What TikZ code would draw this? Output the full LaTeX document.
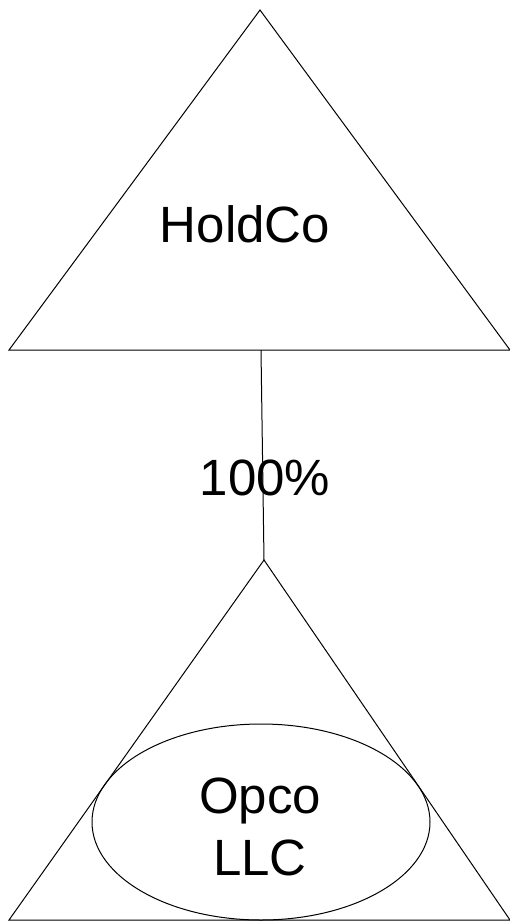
\documentclass[tikz,border=0pt]{standalone}
\usepackage{fontspec}
\setmainfont{Liberation Sans}
\usetikzlibrary{positioning,calc,shapes.geometric}

\tikzset{
  entity/.style={draw=black, line width=1pt},
  entitytext/.style={font=\fontsize{51}{62}\selectfont, align=center, inner sep=0pt},
}

\begin{document}
\begin{tikzpicture}[x=1pt, y=-1pt, line join=miter]
  \useasboundingbox (0,0) rectangle (510,922);

  % HoldCo triangle
  \coordinate (holdTop) at (260,10);
  \coordinate (holdL) at (9,350);
  \coordinate (holdR) at (510,350);
  \coordinate (holdBase) at (261,350);
  \draw[entity] (holdTop) -- (holdL) -- (holdR) -- cycle;
  \node[entitytext] (holdco) at (245,224) {HoldCo};

  % Opco triangle with ellipse
  \coordinate (opTop) at (264,560);
  \coordinate (opL) at (9,920);
  \coordinate (opR) at (510,920);
  \draw[entity] (opTop) -- (opL) -- (opR) -- cycle;
  \draw[entity] (261,822) ellipse [x radius=169, y radius=98];
  \node[entitytext] (opco) at (260,827) {Opco\\LLC};

  % ownership link
  \draw[entity] (holdBase) -- (opTop);
  \node[entitytext] (pct) at (265,478) {100\%};
\end{tikzpicture}
\end{document}
